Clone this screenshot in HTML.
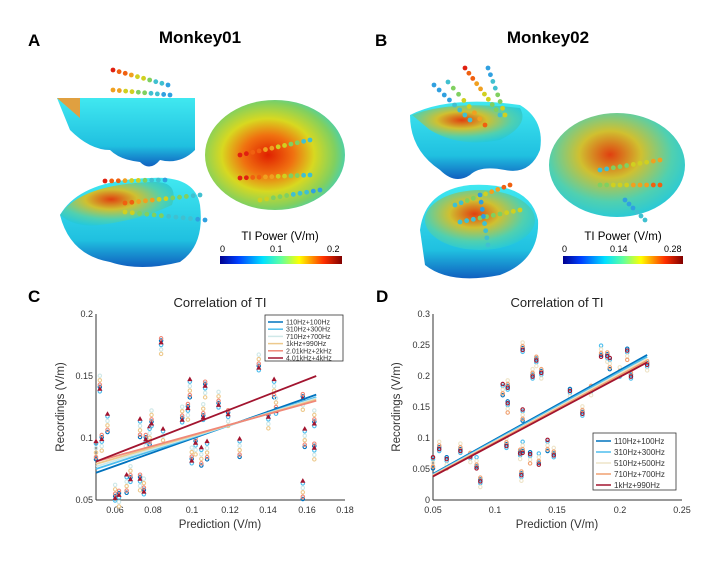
<!DOCTYPE html>
<html><head><meta charset="utf-8">
<style>
html,body{margin:0;padding:0;background:#fff;}
svg{display:block;font-family:"Liberation Sans",sans-serif;}
</style></head>
<body>
<svg id="s" width="717" height="565" viewBox="0 0 717 565" xmlns="http://www.w3.org/2000/svg">
<defs>
<linearGradient id="jet" x1="0" x2="1" y1="0" y2="0">
<stop offset="0" stop-color="#00008f"/><stop offset="0.15" stop-color="#0040ff"/>
<stop offset="0.35" stop-color="#00e0ff"/><stop offset="0.5" stop-color="#60ffa0"/>
<stop offset="0.65" stop-color="#ffff00"/><stop offset="0.85" stop-color="#ff3000"/>
<stop offset="1" stop-color="#800000"/></linearGradient>
<radialGradient id="hot" cx="0.45" cy="0.5" r="0.6">
<stop offset="0" stop-color="#e02000"/><stop offset="0.3" stop-color="#f07010"/>
<stop offset="0.55" stop-color="#d8d820"/><stop offset="0.8" stop-color="#80d060"/>
<stop offset="1" stop-color="#30d0d0"/></radialGradient>
<radialGradient id="warm" cx="0.45" cy="0.4" r="0.65">
<stop offset="0" stop-color="#e04010"/><stop offset="0.35" stop-color="#d0c030"/>
<stop offset="0.7" stop-color="#50d0b0"/><stop offset="1" stop-color="#20c8e0"/></radialGradient>
<linearGradient id="cyan" x1="0" x2="0" y1="0" y2="1">
<stop offset="0" stop-color="#40e8f0"/><stop offset="0.7" stop-color="#20c0e0"/><stop offset="1" stop-color="#1060c0"/></linearGradient>
</defs>

<text x="28" y="46" font-size="17" font-weight="bold">A</text>
<text x="200" y="43" font-size="17" font-weight="bold" text-anchor="middle">Monkey01</text>
<text x="375" y="46" font-size="17" font-weight="bold">B</text>
<text x="548" y="43" font-size="17" font-weight="bold" text-anchor="middle">Monkey02</text>

<path d="M57,98 L195,98 L195,150 Q180,165 160,160 Q150,172 140,162 Q120,160 110,150 Q90,150 70,130 Z" fill="url(#cyan)"/>
<path d="M57,98 L80,98 L80,118 Z" fill="#e0a040"/>
<path d="M60,215 Q80,180 150,178 Q195,175 200,205 Q205,245 180,262 Q140,272 110,262 Q70,255 60,215 Z" fill="url(#cyan)"/>
<path d="M60,215 Q80,185 150,182 Q180,180 172,205 Q140,220 100,225 Q75,228 60,215 Z" fill="url(#warm)"/>
<ellipse cx="275" cy="155" rx="70" ry="55" fill="url(#hot)"/>
<path d="M410,115 Q450,95 520,105 Q545,120 540,150 Q530,175 505,170 Q480,165 470,175 Q455,185 440,170 Q410,150 410,115 Z" fill="url(#cyan)"/>
<path d="M412,115 Q450,100 520,108 Q530,125 500,140 Q460,148 430,130 Z" fill="url(#warm)"/>
<path d="M420,230 Q425,190 470,185 Q530,182 538,220 Q540,260 500,275 Q450,285 425,265 Z" fill="url(#cyan)"/>
<ellipse cx="480" cy="220" rx="55" ry="30" fill="url(#warm)"/>
<ellipse cx="617" cy="165" rx="68" ry="52" fill="url(#warm)"/>

<g id="elec"></g>

<text x="280" y="240" font-size="11.5" text-anchor="middle">TI Power (V/m)</text>
<text x="220" y="252" font-size="9">0</text><text x="270" y="252" font-size="9">0.1</text><text x="327" y="252" font-size="9">0.2</text>
<rect x="220" y="256" width="122" height="8" fill="url(#jet)"/>
<text x="623" y="240" font-size="11.5" text-anchor="middle">TI Power (V/m)</text>
<text x="562" y="252" font-size="9">0</text><text x="610" y="252" font-size="9">0.14</text><text x="664" y="252" font-size="9">0.28</text>
<rect x="563" y="256" width="120" height="8" fill="url(#jet)"/>

<text x="28" y="302" font-size="17" font-weight="bold">C</text>
<text x="220" y="307" font-size="13" text-anchor="middle" fill="#222">Correlation of TI</text>
<g font-size="9" fill="#333">
<line x1="96" y1="314" x2="96" y2="500" stroke="#333"/>
<line x1="96" y1="500" x2="345" y2="500" stroke="#333"/>
<text x="93" y="317" text-anchor="end">0.2</text>
<text x="93" y="379" text-anchor="end">0.15</text>
<text x="93" y="441" text-anchor="end">0.1</text>
<text x="93" y="503" text-anchor="end">0.05</text>
<text x="115" y="513" text-anchor="middle">0.06</text>
<text x="153" y="513" text-anchor="middle">0.08</text>
<text x="192" y="513" text-anchor="middle">0.1</text>
<text x="230" y="513" text-anchor="middle">0.12</text>
<text x="268" y="513" text-anchor="middle">0.14</text>
<text x="307" y="513" text-anchor="middle">0.16</text>
<text x="345" y="513" text-anchor="middle">0.18</text>
</g>
<text x="220" y="528" font-size="11.5" text-anchor="middle" fill="#333">Prediction (V/m)</text>
<text x="64" y="407" font-size="11.5" text-anchor="middle" fill="#333" transform="rotate(-90 64 407)">Recordings (V/m)</text>
<g id="cpts"></g>

<text x="376" y="302" font-size="17" font-weight="bold">D</text>
<text x="557" y="307" font-size="13" text-anchor="middle" fill="#222">Correlation of TI</text>
<g font-size="9" fill="#333">
<line x1="433" y1="314" x2="433" y2="500" stroke="#333"/>
<line x1="433" y1="500" x2="682" y2="500" stroke="#333"/>
<text x="430" y="317" text-anchor="end">0.3</text>
<text x="430" y="348" text-anchor="end">0.25</text>
<text x="430" y="379" text-anchor="end">0.2</text>
<text x="430" y="410" text-anchor="end">0.15</text>
<text x="430" y="441" text-anchor="end">0.1</text>
<text x="430" y="472" text-anchor="end">0.05</text>
<text x="430" y="503" text-anchor="end">0</text>
<text x="433" y="513" text-anchor="middle">0.05</text>
<text x="495" y="513" text-anchor="middle">0.1</text>
<text x="557" y="513" text-anchor="middle">0.15</text>
<text x="620" y="513" text-anchor="middle">0.2</text>
<text x="682" y="513" text-anchor="middle">0.25</text>
</g>
<text x="557" y="528" font-size="11.5" text-anchor="middle" fill="#333">Prediction (V/m)</text>
<text x="400" y="407" font-size="11.5" text-anchor="middle" fill="#333" transform="rotate(-90 400 407)">Recordings (V/m)</text>
<g id="dpts"></g>
</svg>
<script>
var NS="http://www.w3.org/2000/svg";
function el(p,t,a){var e=document.createElementNS(NS,t);for(var k in a)e.setAttribute(k,a[k]);p.appendChild(e);return e;}
var E=document.getElementById('elec');
var pal=["#e02010","#f06010","#f0a020","#d0d020","#80d060","#40c0d0","#30a0e0"];
function chain(x0,y0,x1,y1,n,a,b){for(var i=0;i<n;i++){var t=i/(n-1);var k=Math.round(a+(b-a)*t);el(E,'circle',{cx:x0+(x1-x0)*t,cy:y0+(y1-y0)*t,r:2.4,fill:pal[k]});}}
chain(113,70,168,85,10,0,6);chain(113,90,170,95,10,2,6);
chain(105,181,165,180,10,0,6);chain(125,203,200,195,12,1,5);chain(125,212,205,220,12,3,6);
chain(240,155,310,140,12,0,5);chain(240,178,310,175,12,0,5);chain(260,200,320,190,10,3,6);
chain(465,68,500,115,10,0,5);chain(488,68,505,115,8,6,3);chain(434,85,470,120,8,6,5);chain(448,82,485,125,8,5,1);
chain(455,205,510,185,10,5,1);chain(460,222,520,210,10,5,3);chain(480,195,488,245,8,6,5);
chain(600,170,660,160,10,5,2);chain(600,185,660,185,10,4,1);chain(625,200,645,220,6,6,5);
var cols=["#0072BD","#4DBEEE","#cfe8e8","#EDC98C","#F08878","#A2142F"];
function cx(v){return 96+(v-0.05)*1915;} function cy(v){return 500-(v-0.05)*1240;}
var C=document.getElementById('cpts');
var cp=[[0.05,0.09],[0.052,0.143],[0.053,0.097],[0.056,0.112],[0.06,0.055],[0.062,0.052],[0.066,0.063],[0.068,0.07],[0.073,0.065],[0.073,0.108],[0.075,0.06],[0.076,0.097],[0.078,0.102],[0.079,0.115],[0.084,0.175],[0.085,0.1],[0.095,0.118],[0.098,0.122],[0.099,0.14],[0.1,0.085],[0.102,0.094],[0.105,0.085],[0.106,0.12],[0.107,0.14],[0.108,0.09],[0.114,0.13],[0.119,0.117],[0.125,0.092],[0.135,0.16],[0.14,0.115],[0.143,0.14],[0.144,0.125],[0.158,0.13],[0.159,0.1],[0.164,0.115],[0.164,0.09],[0.158,0.058]];
cp.forEach(function(p,j){cols.forEach(function(c,i){var dy=((i*7+j*3)%9-4)*0.0018;var x=cx(p[0]),y=cy(p[1]+dy);
if(i==5)el(C,'path',{d:"M"+x+","+(y-3)+"l2.6,4.6h-5.2z",fill:c});else el(C,'circle',{cx:x,cy:y,r:1.7,fill:"none",stroke:c,"stroke-width":1.1});});});
var cl=[[0.072,0.135],[0.075,0.133],[0.077,0.132],[0.079,0.131],[0.081,0.13],[0.081,0.15]];
cl.forEach(function(l,i){el(C,'line',{x1:cx(0.05),y1:cy(l[0]),x2:cx(0.165),y2:cy(l[1]),stroke:cols[i],"stroke-width":1.8});});
el(C,'rect',{x:265,y:315,width:78,height:46,fill:"#fff",stroke:"#333","stroke-width":0.8});
["110Hz+100Hz","310Hz+300Hz","710Hz+700Hz","1kHz+990Hz","2.01kHz+2kHz","4.01kHz+4kHz"].forEach(function(t,i){var y=322+i*7.2;
el(C,'line',{x1:268,y1:y,x2:283,y2:y,stroke:cols[i],"stroke-width":1.5});var tx=el(C,'text',{x:286,y:y+2.5,"font-size":7,fill:"#333"});tx.textContent=t;});
var dc=["#0072BD","#4DBEEE","#EEE4C8","#F0A070","#A2142F"];
function dx(v){return 433+(v-0.05)*1245;} function dy(v){return 500-v*620;}
var D=document.getElementById('dpts');
var dp=[[0.05,0.06],[0.055,0.085],[0.061,0.06],[0.072,0.085],[0.08,0.067],[0.085,0.06],[0.088,0.03],[0.106,0.178],[0.109,0.09],[0.11,0.15],[0.11,0.187],[0.12,0.072],[0.122,0.085],[0.121,0.04],[0.122,0.137],[0.122,0.245],[0.128,0.068],[0.13,0.205],[0.133,0.222],[0.135,0.066],[0.137,0.205],[0.142,0.088],[0.147,0.075],[0.16,0.17],[0.17,0.145],[0.177,0.175],[0.185,0.24],[0.19,0.232],[0.192,0.22],[0.2,0.205],[0.206,0.235],[0.209,0.205],[0.222,0.215]];
dp.forEach(function(p,j){dc.forEach(function(c,i){var o=((i*5+j*3)%7-3)*0.003;el(D,'circle',{cx:dx(p[0]),cy:dy(p[1]+o),r:1.7,fill:"none",stroke:c,"stroke-width":1.1});});});
dc.forEach(function(c,i){el(D,'line',{x1:dx(0.05),y1:dy(0.04+(2-i)*0.001),x2:dx(0.222),y2:dy(0.228+(2-i)*0.003),stroke:c,"stroke-width":1.8});});
el(D,'rect',{x:593,y:433,width:83,height:57,fill:"#fff",stroke:"#333","stroke-width":0.8});
["110Hz+100Hz","310Hz+300Hz","510Hz+500Hz","710Hz+700Hz","1kHz+990Hz"].forEach(function(t,i){var y=441+i*11;
el(D,'line',{x1:596,y1:y,x2:611,y2:y,stroke:dc[i],"stroke-width":1.5});var tx=el(D,'text',{x:614,y:y+3,"font-size":8,fill:"#333"});tx.textContent=t;});
</script>
</body></html>
